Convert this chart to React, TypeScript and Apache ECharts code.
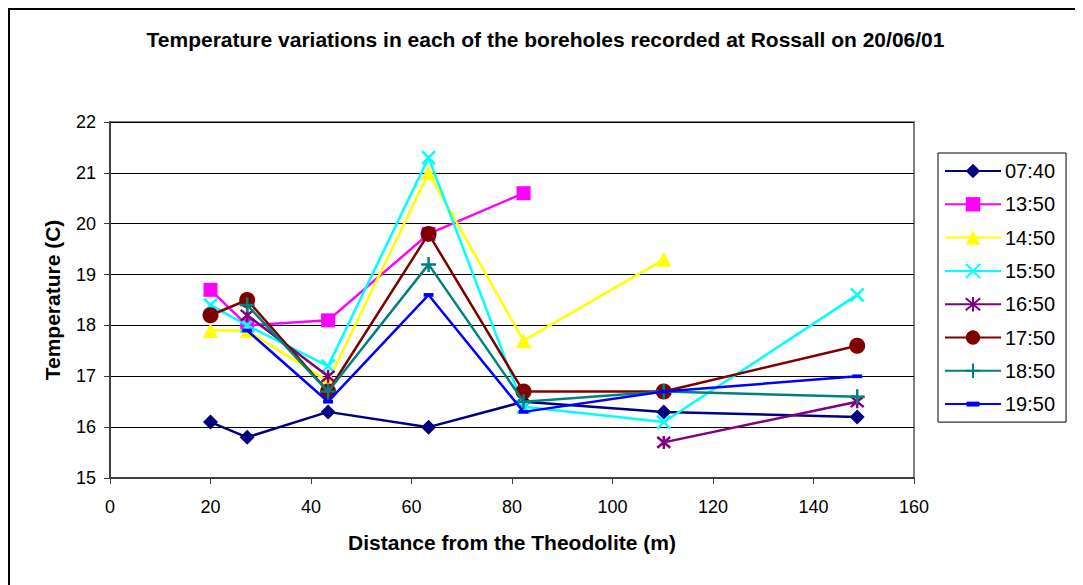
import React, { useEffect, useRef } from "react";
import * as echarts from "echarts";

const distances = [20, 27.3, 43.4, 63.4, 82.3, 110.2, 148.7];
const seriesNames = ["07:40", "13:50", "14:50", "15:50", "16:50", "17:50", "18:50", "19:50"];
const t0740 = [16.1, 15.8, 16.3, 16.0, 16.5, 16.3, 16.2];
const t1350 = [18.7, 18.0, 18.1, 19.8, 20.6, null, null];
const t1450 = [17.9, 17.9, 16.9, 21.0, 17.7, 19.3, null];
const t1550 = [18.4, 18.0, 17.2, 21.3, 16.4, 16.1, 18.6];
const t1650 = [null, 18.2, 17.0, null, null, 15.7, 16.5];
const t1750 = [18.2, 18.5, 16.7, 19.8, 16.7, 16.7, 17.6];
const t1850 = [null, 18.4, 16.7, 19.2, 16.5, 16.7, 16.6];
const t1950 = [null, 17.9, 16.5, 18.6, 16.3, 16.7, 17.0];
const allValues = [t0740, t1350, t1450, t1550, t1650, t1750, t1850, t1950];

const colors = ["#000080", "#FF00FF", "#FFFF00", "#00FFFF", "#800080", "#800000", "#008080", "#0000FF"];
const symbols = [
  "diamond",
  "rect",
  "triangle",
  "path://M0,0L10,10M10,0L0,10",
  "path://M0,0L10,10M10,0L0,10M5,-1L5,11",
  "circle",
  "path://M5,0L5,10M0,5L10,5",
  "path://M0,0M10,10M0.5,3.3L9.5,3.3L9.5,6.7L0.5,6.7Z",
];
const symbolSizes = [15, 14, 15, 13, 13, 16, 15, 11];
const strokeSymbol = [false, false, false, true, true, false, true, false];

const FONT = "'Liberation Sans', Arial, sans-serif";

export default function App() {
  const ref = useRef<HTMLDivElement>(null);
  useEffect(() => {
    if (!ref.current) return;
    const chart = echarts.init(ref.current, undefined, { renderer: "svg" });
    const series = seriesNames.map((name, i) => ({
      name,
      type: "line",
      data: distances.map((d, j) => [d, allValues[i][j] == null ? "-" : allValues[i][j]]),
      connectNulls: false,
      symbol: symbols[i],
      symbolSize: symbolSizes[i],
      showAllSymbol: true,
      lineStyle: { color: colors[i], width: 2.5 },
      itemStyle: strokeSymbol[i]
        ? { color: colors[i], borderColor: colors[i], borderWidth: 2.5 }
        : { color: colors[i], borderWidth: 0 },
      emphasis: { disabled: true },
      z: 2 + i,
    }));
    chart.setOption({
      animation: false,
      backgroundColor: "#ffffff",
      textStyle: { fontFamily: FONT },
      title: {
        text: "Temperature variations in each of the boreholes recorded at Rossall on 20/06/01",
        left: "center",
        top: 16,
        textStyle: { fontFamily: FONT, fontSize: 21, fontWeight: "bold", color: "#000" },
      },
      graphic: [
        {
          type: "rect",
          shape: { x: 1, y: 1, width: 3000, height: 3000 },
          style: { fill: "none", stroke: "#000", lineWidth: 2 },
          silent: true,
          z: -10,
        },
      ],
      grid: {
        left: 102,
        top: 114,
        width: 804,
        height: 356,
        show: true,
        borderColor: "#808080",
        borderWidth: 2,
        backgroundColor: "#ffffff",
      },
      legend: {
        orient: "vertical",
        left: 930,
        top: 145,
        padding: [8, 11, 8, 6],
        itemGap: 13.3,
        itemWidth: 56,
        itemHeight: 18,
        borderColor: "#000",
        borderWidth: 1,
        textStyle: { fontFamily: FONT, fontSize: 20, color: "#000", padding: [0, 0, 0, -1] },
        data: seriesNames,
      },
      xAxis: {
        type: "value",
        min: 0,
        max: 160,
        interval: 20,
        name: "Distance from the Theodolite (m)",
        nameLocation: "middle",
        nameGap: 54,
        nameTextStyle: { fontFamily: FONT, fontSize: 21, fontWeight: "bold", color: "#000" },
        axisLine: { show: true, onZero: false, lineStyle: { color: "#404040", width: 2 } },
        axisTick: { show: true, inside: false, length: 6, lineStyle: { color: "#404040" } },
        axisLabel: { fontFamily: FONT, fontSize: 18, color: "#000", margin: 20 },
        splitLine: { show: false },
      },
      yAxis: {
        type: "value",
        min: 15,
        max: 22,
        interval: 1,
        name: "Temperature (C)",
        nameLocation: "middle",
        nameGap: 47,
        nameTextStyle: { fontFamily: FONT, fontSize: 21, fontWeight: "bold", color: "#000" },
        axisLine: { show: true, lineStyle: { color: "#404040", width: 2 } },
        axisTick: { show: true, inside: false, length: 6, lineStyle: { color: "#404040" } },
        axisLabel: { fontFamily: FONT, fontSize: 18, color: "#000", margin: 14 },
        splitLine: { show: true, lineStyle: { color: "#000", width: 1 } },
      },
      series,
    });
    return () => chart.dispose();
  }, []);
  return <div ref={ref} style={{ width: 1075, height: 577 }} />;
}
